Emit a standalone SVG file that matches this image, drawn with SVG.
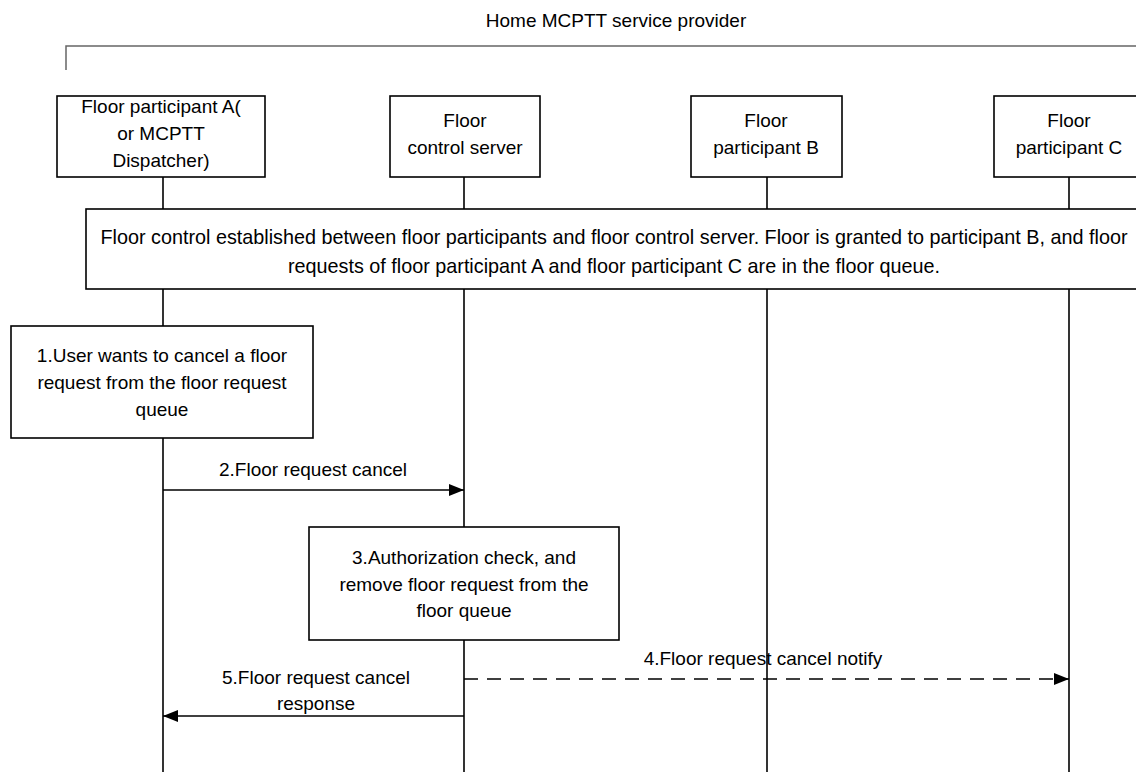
<svg xmlns="http://www.w3.org/2000/svg" width="1136" height="772" viewBox="0 0 1136 772">
<style>
text{font-family:"Liberation Sans",Arial,sans-serif;font-size:19px;fill:#000;text-anchor:middle}
.big{font-size:19.8px}
.box{fill:#fff;stroke:#000;stroke-width:1.6}
.life{stroke:#000;stroke-width:1.6;fill:none}
.msg{stroke:#000;stroke-width:1.6;fill:none}
.dash{stroke-dasharray:14,9}
</style>
<defs>
<marker id="ah" viewBox="0 0 15 12" refX="15" refY="6" markerWidth="15" markerHeight="12" markerUnits="userSpaceOnUse" orient="auto">
<path d="M0,0 L15,6 L0,12 Z" fill="#000"/>
</marker>
</defs>
<rect width="1136" height="772" fill="#fff"/>
<g id="frame">
<text x="616" y="27">Home MCPTT service provider</text>
<path d="M66,70 V46 H1136" fill="none" stroke="#666" stroke-width="1.5"/>
</g>
<g id="lifelines">
<line class="life" x1="163" y1="177" x2="163" y2="772"/>
<line class="life" x1="464" y1="177" x2="464" y2="772"/>
<line class="life" x1="767" y1="177" x2="767" y2="772"/>
<line class="life" x1="1069" y1="177" x2="1069" y2="772"/>
</g>
<g id="nodeA">
<rect class="box" x="57" y="96" width="208" height="81"/>
<text x="161" y="113">Floor participant A(</text>
<text x="161" y="140">or MCPTT</text>
<text x="161" y="167">Dispatcher)</text>
</g>
<g id="nodeFCS">
<rect class="box" x="390" y="96" width="150" height="81"/>
<text x="465" y="127">Floor</text>
<text x="465" y="154">control server</text>
</g>
<g id="nodeB">
<rect class="box" x="691" y="96" width="151" height="81"/>
<text x="766" y="127">Floor</text>
<text x="766" y="154">participant B</text>
</g>
<g id="nodeC">
<rect class="box" x="994" y="96" width="151" height="81"/>
<text x="1069" y="127">Floor</text>
<text x="1069" y="154">participant C</text>
</g>
<g id="established">
<rect class="box" x="86" y="209" width="1060" height="80"/>
<text class="big" x="614" y="244">Floor control established between floor participants and floor control server. Floor is granted to participant B, and floor</text>
<text class="big" x="614" y="273">requests of floor participant A and floor participant C are in the floor queue.</text>
</g>
<g id="step1">
<rect class="box" x="11" y="326" width="302" height="112"/>
<text x="162" y="362">1.User wants to cancel a floor</text>
<text x="162" y="389">request from the floor request</text>
<text x="162" y="416">queue</text>
</g>
<g id="step3">
<rect class="box" x="309" y="527" width="310" height="113"/>
<text x="464" y="564">3.Authorization check, and</text>
<text x="464" y="591">remove floor request from the</text>
<text x="464" y="617">floor queue</text>
</g>
<g id="connectors">
<line class="msg" x1="163" y1="490" x2="464" y2="490" marker-end="url(#ah)"/>
<text x="313" y="476">2.Floor request cancel</text>
<line class="msg dash" x1="464" y1="679" x2="1069" y2="679" marker-end="url(#ah)"/>
<text x="763" y="665">4.Floor request cancel notify</text>
<line class="msg" x1="464" y1="716" x2="163" y2="716" marker-end="url(#ah)"/>
<text x="316" y="684">5.Floor request cancel</text>
<text x="316" y="710">response</text>
</g>
</svg>
